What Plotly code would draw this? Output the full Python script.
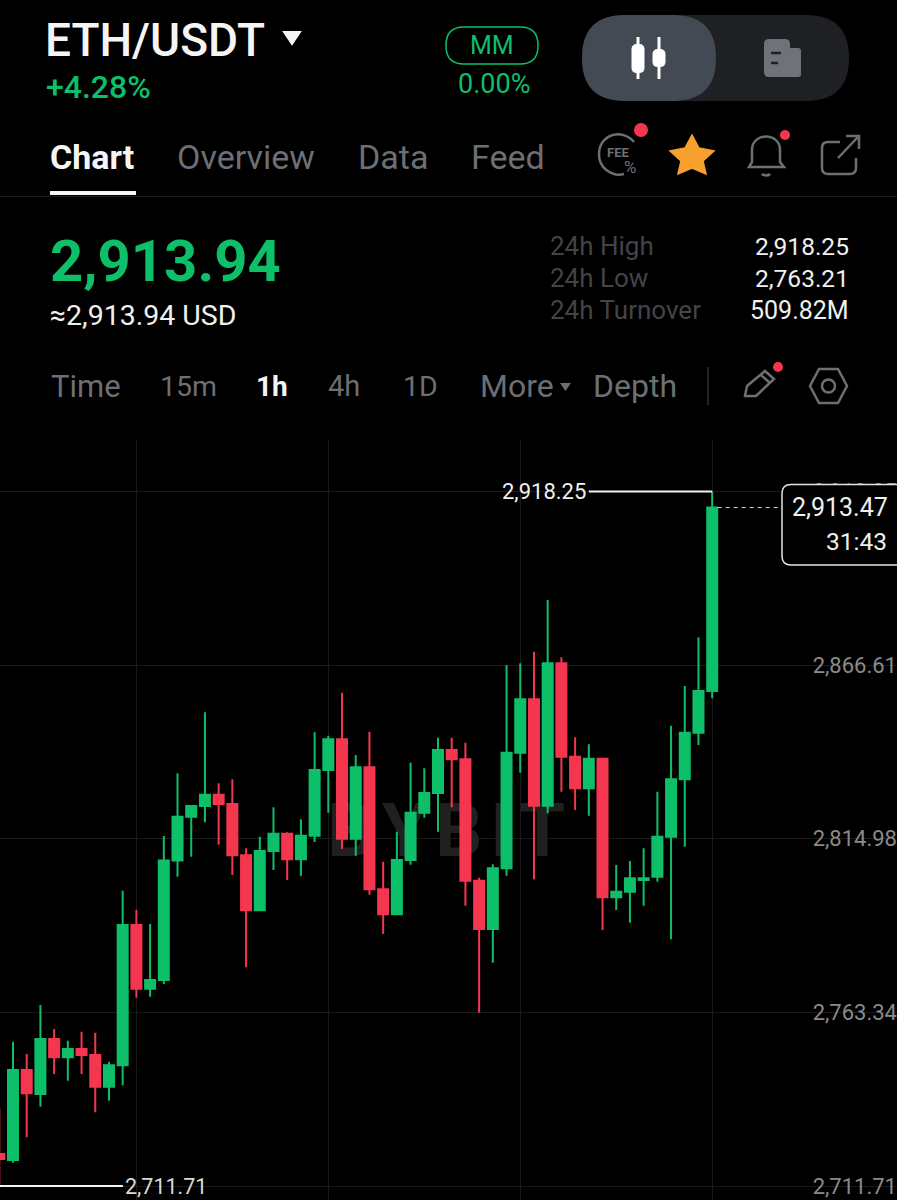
import plotly.graph_objects as go

# hourly candles, oldest first
opens = [2721.23, 2719.44, 2746.21, 2739.07, 2755.43, 2749.98, 2752.45, 2750.67, 2741.24, 2747.61,
         2789.33, 2770.39, 2772.97, 2808.51, 2821.54, 2824.72, 2828.08, 2825.32, 2810.06, 2793.70,
         2811.34, 2816.48, 2808.87, 2815.89, 2835.43, 2844.56, 2815.00, 2836.23, 2799.95, 2792.51,
         2808.66, 2822.73, 2828.59, 2841.38, 2838.61, 2802.51, 2788.14, 2806.19, 2840.57, 2856.45,
         2824.81, 2867.16, 2839.38, 2829.99, 2838.79, 2797.57, 2799.24, 2802.72, 2803.70, 2815.59,
         2832.66, 2846.52, 2858.92]
highs = [2734.91, 2754.62, 2750.97, 2765.54, 2758.40, 2754.92, 2757.60, 2757.30, 2748.68, 2799.53,
         2793.79, 2789.63, 2815.80, 2834.45, 2825.02, 2852.59, 2831.47, 2832.66, 2812.14, 2815.59,
         2824.33, 2816.90, 2820.77, 2846.64, 2845.63, 2858.42, 2839.89, 2846.82, 2808.16, 2817.08,
         2837.60, 2835.93, 2845.03, 2845.03, 2843.55, 2803.40, 2807.38, 2866.66, 2867.16, 2870.61,
         2885.99, 2868.95, 2845.15, 2843.07, 2838.79, 2807.18, 2808.37, 2812.14, 2828.98, 2848.60,
         2860.41, 2874.89, 2918.25]
lows = [2711.71, 2718.64, 2726.19, 2735.29, 2745.02, 2743.03, 2745.02, 2733.63, 2737.08, 2741.66,
        2767.71, 2768.01, 2771.78, 2803.70, 2809.64, 2819.87, 2813.21, 2804.20, 2776.75, 2793.70,
        2805.69, 2802.71, 2803.90, 2814.02, 2822.73, 2811.93, 2809.94, 2798.34, 2786.65, 2792.51,
        2807.26, 2821.24, 2817.08, 2824.33, 2795.07, 2763.21, 2778.12, 2803.99, 2834.63, 2802.92,
        2822.55, 2828.98, 2823.53, 2821.84, 2787.84, 2793.79, 2790.02, 2795.07, 2802.21, 2785.08,
        2812.62, 2842.86, 2856.75]
closes = [2719.74, 2746.21, 2739.28, 2755.43, 2749.98, 2752.45, 2750.67, 2741.24, 2747.61, 2789.33,
          2770.39, 2772.97, 2808.51, 2821.54, 2824.72, 2828.08, 2825.32, 2810.06, 2793.70, 2811.34,
          2816.48, 2808.87, 2815.89, 2835.43, 2844.56, 2815.00, 2836.23, 2799.95, 2792.51, 2808.66,
          2822.73, 2828.59, 2841.38, 2838.61, 2802.51, 2788.14, 2806.19, 2840.57, 2856.45, 2824.81,
          2867.16, 2839.38, 2829.99, 2838.79, 2797.57, 2799.24, 2803.22, 2803.22, 2815.59, 2832.66,
          2846.52, 2858.92, 2913.47]
candles = list(range(len(opens)))

price_ticks = [2711.71, 2763.34, 2814.98, 2866.61, 2918.25]
time_ticks = [10, 24, 38, 52]
high_price = 2918.25
low_price = 2711.71
last_price = 2913.47

GREEN = "#0EBF69"
RED = "#F5364F"
GRID = "#1A1A1A"
GRAY = "#6C6F74"
DIM = "#424448"
FONT = "Roboto"
W, H = 897, 1200

x_range = [0.052, 65.48]
y_range = [2707.55, 2933.57]
chart_domain = [0, 760 / H]

fig = go.Figure()

# watermark sits on the base axes so the candles cover it
fig.add_trace(go.Scatter(x=[32.6], y=[2815.3], mode="text", text=["B\u200aY\u200aB\u200aI\u200aT"],
                         textfont=dict(family=FONT, size=74, color="#202020", weight=700),
                         hoverinfo="skip", showlegend=False))

fig.add_trace(go.Candlestick(x=candles, open=opens, high=highs, low=lows, close=closes,
                             xaxis="x2", yaxis="y2",
                             increasing=dict(line=dict(color=GREEN, width=2), fillcolor=GREEN),
                             decreasing=dict(line=dict(color=RED, width=2), fillcolor=RED),
                             whiskerwidth=0, showlegend=False))

fig.add_trace(go.Scatter(x=[43.0, 52], y=[high_price, high_price], mode="lines", xaxis="x2", yaxis="y2",
                         line=dict(color="#F2F2F2", width=2), showlegend=False))
fig.add_trace(go.Scatter(x=[0.05, 9.02], y=[low_price, low_price], mode="lines", xaxis="x2", yaxis="y2",
                         line=dict(color="#F2F2F2", width=2), showlegend=False))
fig.add_trace(go.Scatter(x=[52.4, 56.9], y=[last_price, last_price], mode="lines", xaxis="x2", yaxis="y2",
                         line=dict(color="#D8D8D8", width=1, dash="4px,4px"), showlegend=False))

# page furniture is placed on a full-window pixel axis
fig.add_trace(go.Scatter(x=[], y=[], xaxis="x3", yaxis="y3", showlegend=False))


def label(x, y, text, size, color, anchor="left", weight=400):
    fig.add_annotation(x=x, y=y, xref="x3", yref="y3", text=text, showarrow=False,
                       xanchor=anchor, yanchor="middle", borderpad=0,
                       font=dict(family=FONT, size=size, color=color, weight=weight))


def rrect(x0, y0, x1, y1, r):
    return (f"M{x0 + r} {y0} L{x1 - r} {y0} Q{x1} {y0} {x1} {y0 + r} L{x1} {y1 - r} Q{x1} {y1} {x1 - r} {y1} "
            f"L{x0 + r} {y1} Q{x0} {y1} {x0} {y1 - r} L{x0} {y0 + r} Q{x0} {y0} {x0 + r} {y0} Z")


def pshape(path, fill=None, line=None, width=0):
    fig.add_shape(type="path", path=path, xref="x3", yref="y3", fillcolor=fill or "rgba(0,0,0,0)",
                  line=dict(color=line or "rgba(0,0,0,0)", width=width), layer="above")


def dot(cx, cy, r, fill=None, line=None, width=0):
    fig.add_shape(type="circle", x0=cx - r, x1=cx + r, y0=cy - r, y1=cy + r, xref="x3", yref="y3",
                  fillcolor=fill or "rgba(0,0,0,0)", line=dict(color=line or "rgba(0,0,0,0)", width=width),
                  layer="above")


# header
label(44, 40, "ETH/USDT", 46, "#F5F5F5", weight=500)
pshape("M284 32 L300 32 L292 44 Z", fill="#F5F5F5", line="#F5F5F5", width=2)
label(45, 87, "+4.28%", 32, GREEN, weight=500)
pshape(rrect(446, 27, 538, 64, 18), line=GREEN, width=1.5)
label(492, 45, "MM", 25, GREEN, "center")
label(494, 84, "0.00%", 27, GREEN, "center")

pshape(rrect(582, 15, 849, 101, 43), fill="#1E2024")
pshape(rrect(582, 15, 716, 101, 43), fill="#434A54")
for cx, top, bot, y0, y1 in [(638, 37, 79, 44, 73), (659, 37, 79, 49, 67)]:
    pshape(f"M{cx} {top} L{cx} {bot}", line="#FFFFFF", width=3)
    pshape(rrect(cx - 6.5, y0, cx + 6.5, y1, 5.5), fill="#FFFFFF")
pshape(rrect(764, 39, 790, 77, 5), fill="#6F7278")
pshape(rrect(786, 48, 801, 77, 3), fill="#6F7278")
pshape("M771 53 L781 53 M771 63 L778 63", line="#1E2024", width=2.5)

# tabs
label(49, 157, "Chart", 34, "#F5F5F5", weight=700)
label(176, 157, "Overview", 34, GRAY)
label(357, 157, "Data", 34, GRAY)
label(470, 157, "Feed", 34, GRAY)
pshape("M50 193 L136 193", line="#F5F5F5", width=4)
pshape("M0 196.5 L897 196.5", line="#1C1C1C", width=1)

# fee, star, bell, share
pshape("M634 142 C622 128 600 134 599 153 C598 168 612 177 624 174", line=GRAY, width=2.5)
label(618, 152, "FEE", 13, GRAY, "center", 700)
label(630, 167, "%", 17, GRAY, "center")
dot(641, 130, 7, fill=RED)
pshape("M692 135 L699 148 L714 151 L703 161 L706 174 L692 168 L678 174 L681 161 L670 151 L685 148 Z",
       fill="#F7A02E", line="#F7A02E", width=1.5)
pshape("M749 167 L752 162 L752 150 C752 132 780 132 780 150 L780 162 L784 167 Z", line=GRAY, width=2.5)
pshape("M762 174 C764 176 768 176 770 174", line=GRAY, width=2.5)
dot(785, 135, 5, fill=RED)
pshape("M840 142 L828 142 Q822 142 822 148 L822 168 Q822 174 828 174 L850 174 Q856 174 856 168 L856 158",
       line=GRAY, width=2.5)
pshape("M838 158 L858 137 M846 136 L859 136 L859 149", line=GRAY, width=2.5)

# price block
label(49, 261, "2,913.94", 58, GREEN, weight=700)
label(49, 315, "≈2,913.94 USD", 28.5, "#F0F0F0")
for y, name, value, size in [(246, "24h High", "2,918.25", 24.5), (278, "24h Low", "2,763.21", 24.5),
                             (310, "24h Turnover", "509.82M", 25)]:
    label(549, y, name, 26, DIM)
    label(850, y, value, size, "#F0F0F0", "right")

# interval row
for x, name, size in [(50, "Time", 31), (159, "15m", 28.5), (327, "4h", 29), (402, "1D", 28.5),
                      (479, "More", 32), (592, "Depth", 32)]:
    label(x, 386, name, size, GRAY)
label(255, 386, "1h", 28, "#F5F5F5", weight=700)
pshape("M560 383 L571 383 L565.5 391 Z", fill=GRAY)
pshape("M708 367 L708 405", line="#2E2E2E", width=1.5)
pshape("M745 396 L747 386 L765 371 L774 379 L756 396 Z M761 375 L770 383", line=GRAY, width=2.5)
dot(778, 367, 5, fill=RED)
pshape("M819 369 L838 369 L847 386 L838 403 L819 403 L810 386 Z", line=GRAY, width=2.5)
dot(828.5, 386, 6.5, line=GRAY, width=2.5)

# price tag over the right edge, hides the top tick label
pshape(rrect(782, 484.5, 915, 565, 9), fill="#000000", line="#E4E4E4", width=1.5)
label(791, 507, "2,913.47", 25, "#F0F0F0")
label(888, 541, "31:43", 24.5, "#F0F0F0", "right")

fig.add_annotation(x=42.95, y=high_price, xref="x2", yref="y2", text="2,918.25", showarrow=False, xanchor="right",
                   yanchor="middle", font=dict(family=FONT, size=22, color="#F0F0F0"))
fig.add_annotation(x=9.0, y=low_price, xref="x2", yref="y2", text="2,711.71", showarrow=False, xanchor="left",
                   yanchor="middle", font=dict(family=FONT, size=21.5, color="#D8D8D8"))

fig.update_layout(
    width=W, height=H, margin=dict(l=0, r=0, t=0, b=0), autosize=False,
    paper_bgcolor="#000000", plot_bgcolor="rgba(0,0,0,0)", showlegend=False, boxgap=0.27, boxgroupgap=0,
    xaxis=dict(range=x_range, domain=[0, 1], anchor="y", tickvals=time_ticks, showticklabels=False,
               showgrid=True, gridcolor=GRID, gridwidth=1, zeroline=False, showline=False, ticks=""),
    yaxis=dict(range=y_range, domain=chart_domain, anchor="x", side="right", tickvals=price_ticks,
               tickformat=",.2f", ticklabelposition="inside", ticklabelstandoff=-3,
               tickfont=dict(family=FONT, size=22, color="#8A8A8A"),
               showgrid=True, gridcolor=GRID, gridwidth=1, zeroline=False, showline=False, ticks=""),
    xaxis2=dict(range=x_range, overlaying="x", anchor="y2", visible=False, rangeslider=dict(visible=False)),
    yaxis2=dict(range=y_range, overlaying="y", anchor="x2", visible=False),
    xaxis3=dict(range=[0, W], domain=[0, 1], anchor="y3", visible=False),
    yaxis3=dict(range=[H, 0], domain=[0, 1], anchor="x3", visible=False),
)

fig.write_html("out.html", config=dict(displayModeBar=False),
               post_script="document.body.style.margin='0';document.body.style.background='#000';")
